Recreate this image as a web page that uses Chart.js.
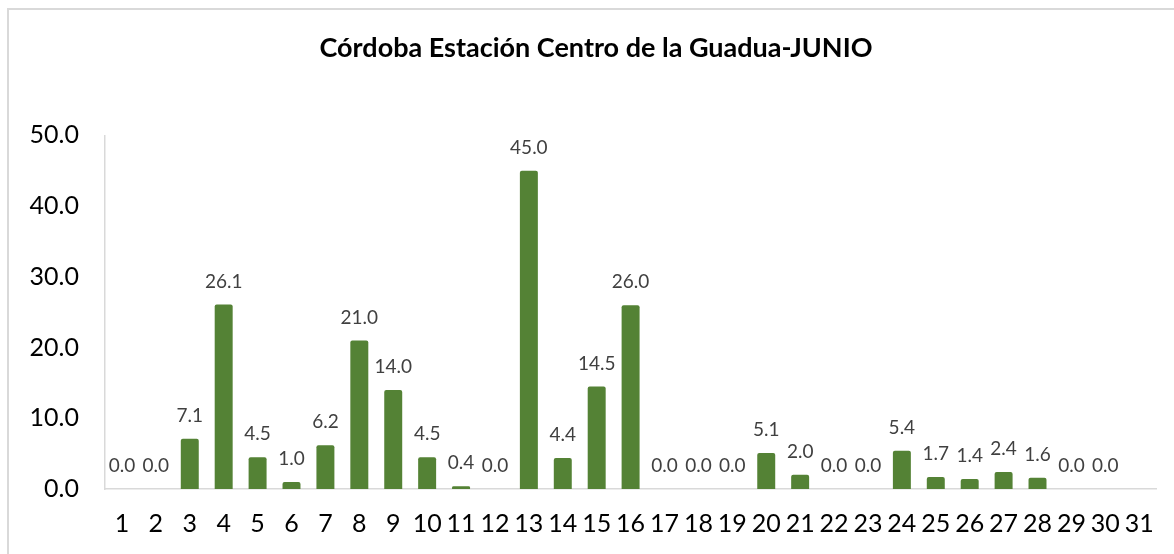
<!DOCTYPE html>
<html lang="es">
<head>
  <meta charset="UTF-8">
  <title>Córdoba Estación Centro de la Guadua - JUNIO</title>
  <script src="https://cdn.jsdelivr.net/npm/chart.js"></script>
  <style>
    html, body {
      margin: 0;
      padding: 0;
      background: #fff;
      overflow: hidden;
    }
    #frame {
      position: absolute;
      left: 7px;
      top: 8px;
      width: 1200px;
      height: 600px;
      border: 2px solid #d9d9d9;
    }
    #wrap {
      position: absolute;
      left: 0;
      top: 0;
      width: 1174px;
      height: 554px;
    }
  </style>
</head>
<body>
  <div id="frame"></div>
  <div id="wrap">
    <canvas id="rainChart"></canvas>
  </div>

  <script>
    // días del mes
    const dias = ['1','2','3','4','5','6','7','8','9','10','11','12','13','14','15','16',
                  '17','18','19','20','21','22','23','24','25','26','27','28','29','30','31'];
    // precipitación diaria (mm) - día 31 sin dato
    const precipitacion = [0.0, 0.0, 7.1, 26.1, 4.5, 1.0, 6.2, 21.0, 14.0, 4.5, 0.4, 0.0, 45.0, 4.4, 14.5, 26.0,
                           0.0, 0.0, 0.0, 5.1, 2.0, 0.0, 0.0, 5.4, 1.7, 1.4, 2.4, 1.6, 0.0, 0.0, null];
    const yMin = 0;
    const yMax = 50;
    const yStep = 10;

    const fontFam = "Lato, 'Open Sans', sans-serif";

    // etiquetas de datos encima de cada barra
    const etiquetas = {
      id: 'etiquetas',
      afterDatasetsDraw(chart) {
        const ctx = chart.ctx;
        const meta = chart.getDatasetMeta(0);
        ctx.save();
        ctx.font = '19px ' + fontFam;
        ctx.fillStyle = '#404040';
        ctx.textAlign = 'center';
        ctx.textBaseline = 'middle';
        meta.data.forEach((bar, i) => {
          const v = chart.data.datasets[0].data[i];
          if (v === null || v === undefined) return;
          ctx.fillText(v.toFixed(1), bar.x, bar.y - 23);
        });
        ctx.restore();
      }
    };

    // el título queda un poco a la derecha, como en el original
    const moverTitulo = {
      id: 'moverTitulo',
      afterLayout(chart) {
        if (chart.titleBlock) chart.titleBlock.left = 34;
      }
    };

    const ctx = document.getElementById('rainChart').getContext('2d');
    new Chart(ctx, {
      type: 'bar',
      data: {
        labels: dias,
        datasets: [{
          data: precipitacion,
          backgroundColor: '#548235',
          borderRadius: 2,
          categoryPercentage: 1.0,
          barPercentage: 0.53
        }]
      },
      options: {
        responsive: true,
        maintainAspectRatio: false,
        animation: false,
        layout: {
          padding: { left: 0, right: 16, top: 0, bottom: 0 }
        },
        plugins: {
          legend: { display: false },
          tooltip: { enabled: false },
          title: {
            display: true,
            text: 'Córdoba Estación Centro de la Guadua-JUNIO',
            color: '#000',
            font: { family: fontFam, size: 27, weight: 'bold', lineHeight: 1.2 },
            padding: { top: 32, bottom: 71 }
          }
        },
        scales: {
          x: {
            grid: { display: false, drawTicks: false },
            border: { display: true, color: '#d9d9d9', width: 1.5 },
            ticks: {
              color: '#000',
              font: { family: fontFam, size: 25 },
              padding: 20,
              maxRotation: 0,
              autoSkip: false
            },
            afterFit(scale) { scale.height = 65; }
          },
          y: {
            min: yMin,
            max: yMax,
            grid: { display: false, drawTicks: false },
            border: { display: true, color: '#d9d9d9', width: 1.5 },
            ticks: {
              stepSize: yStep,
              color: '#000',
              font: { family: fontFam, size: 25 },
              padding: 26,
              callback: (v) => v.toFixed(1)
            },
            afterFit(scale) { scale.width = 105; }
          }
        }
      },
      plugins: [etiquetas, moverTitulo]
    });
  </script>
</body>
</html>
